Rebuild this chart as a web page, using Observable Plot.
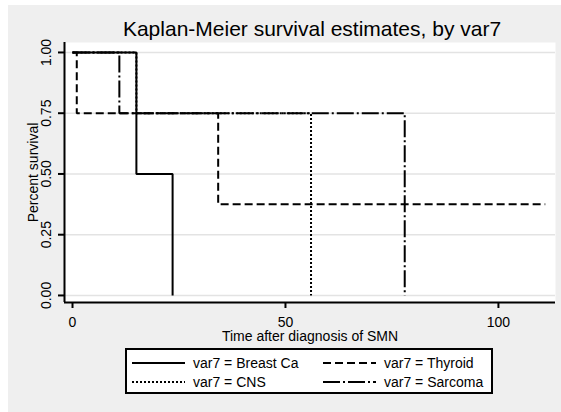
<!DOCTYPE html>
<html><head><meta charset="utf-8">
<script src="https://cdn.jsdelivr.net/npm/d3@7"></script>
<script src="https://cdn.jsdelivr.net/npm/@observablehq/plot@0.6"></script>
<style>
body{margin:0;background:#fff;}
#wrap{position:relative;width:561px;height:412px;overflow:hidden;background:#fff;font-family:"Liberation Sans",Arial,sans-serif;}
#bg{position:absolute;left:8px;top:5px;right:0;bottom:0;background:#efefef;}
#chart{position:absolute;left:0;top:0;}
#legend{position:absolute;left:0;top:0;}
</style></head><body>
<div id="wrap"><div id="bg"></div><div id="chart"></div><svg id="legend" width="561" height="412"></svg></div>
<script>
// ---- data ----
const groups = ["Breast Ca", "Thyroid", "CNS", "Sarcoma"];
const breastTime = [0, 15, 23.5];
const breastSurv = [1, 0.5, 0];
const thyroidTime = [0, 1, 34.2, 111];
const thyroidSurv = [1, 0.75, 0.375, 0.375];
const cnsTime = [0, 15, 56];
const cnsSurv = [1, 0.75, 0];
const sarcomaTime = [0, 11, 78];
const sarcomaSurv = [1, 0.75, 0];
const xTicks = [0, 50, 100];
const yTicks = [0, 0.25, 0.5, 0.75, 1];
const title = "Kaplan-Meier survival estimates, by var7";
const xLabel = "Time after diagnosis of SMN";
const yLabel = "Percent survival";
const legendLabels = groups.map(g => `var7 = ${g}`);

// ---- build ----
const series = {
  "Breast Ca": [breastTime, breastSurv],
  "Thyroid": [thyroidTime, thyroidSurv],
  "CNS": [cnsTime, cnsSurv],
  "Sarcoma": [sarcomaTime, sarcomaSurv]
};
const dashes = {"Breast Ca": null, "Thyroid": "8,4", "CNS": "2,2", "Sarcoma": "17,3,2,3"};
const rows = [];
for (const g of groups) {
  const [t, s] = series[g];
  t.forEach((ti, i) => rows.push({group: g, time: ti, surv: s[i]}));
}
const xDom = [-1.88, 113.4];
const yDom = [-0.029, 1.041];
const font = '"Liberation Sans", Arial, sans-serif';

const plot = Plot.plot({
  width: 561, height: 412,
  marginLeft: 64, marginRight: 6, marginTop: 42, marginBottom: 110,
  style: {background: "transparent", fontFamily: font, fontSize: "14px", color: "black"},
  x: {domain: xDom},
  y: {domain: yDom},
  marks: [
    Plot.frame({fill: "white", stroke: "none"}),
    Plot.gridY(yTicks, {stroke: "#e3e3e3", strokeOpacity: 1, strokeWidth: 1.5}),
    ...groups.map(g => Plot.line(rows.filter(r => r.group === g), {
      x: "time", y: "surv", curve: "step-after", stroke: "black",
      strokeWidth: 2, strokeDasharray: dashes[g], strokeLinejoin: "miter", strokeLinecap: "butt"
    })),
    Plot.ruleX([xDom[0]], {stroke: "black", strokeWidth: 2}),
    Plot.ruleY([yDom[0]], {stroke: "black", strokeWidth: 2}),
    Plot.axisX({ticks: xTicks, tickSize: 6, tickPadding: 9, strokeWidth: 2, fontSize: 14, label: null}),
    Plot.axisY({ticks: yTicks, tickSize: 6, tickPadding: 8, tickRotate: -90, tickFormat: d3.format(".2f"), strokeWidth: 2, fontSize: 14, label: null}),
    Plot.text([xLabel], {frameAnchor: "bottom", dy: 38, lineAnchor: "bottom", fontSize: 14}),
    Plot.text([yLabel], {frameAnchor: "left", dx: -27, rotate: -90, textAnchor: "middle", lineAnchor: "bottom", fontSize: 14}),
    Plot.text([title], {frameAnchor: "top", dx: 2, dy: -7, lineAnchor: "bottom", fontSize: 21})
  ]
});
document.getElementById("chart").appendChild(plot);

// ---- legend ----
const leg = d3.select("#legend").style("font-family", font).style("font-size", "14px");
leg.append("rect").attr("x", 126).attr("y", 349).attr("width", 366).attr("height", 44)
  .attr("fill", "white").attr("stroke", "black").attr("stroke-width", 2);
const pos = [[132, 363], [323, 363], [132, 382], [323, 382]];
const order = ["Breast Ca", "Thyroid", "CNS", "Sarcoma"];
order.forEach((g, i) => {
  const [x, y] = pos[i];
  leg.append("line").attr("x1", x).attr("x2", x + 53).attr("y1", y).attr("y2", y)
    .attr("stroke", "black").attr("stroke-width", 2)
    .attr("stroke-dasharray", dashes[g]);
  leg.append("text").attr("x", x + 61).attr("y", y + 5).text(legendLabels[groups.indexOf(g)]);
});
</script>
</body></html>
